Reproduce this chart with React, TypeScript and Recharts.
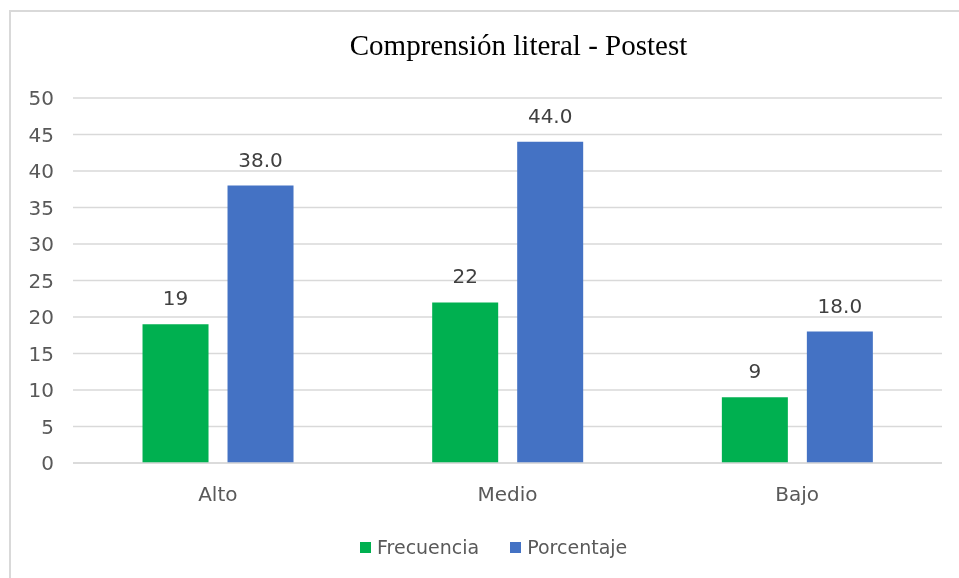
import React from "react";
import {
  BarChart,
  Bar,
  XAxis,
  YAxis,
  CartesianGrid,
  Legend,
  LabelList,
} from "recharts";

const categories = ["Alto", "Medio", "Bajo"];
const frecuencia = [19, 22, 9];
const porcentaje = [38.0, 44.0, 18.0];
const yTicks = [0, 5, 10, 15, 20, 25, 30, 35, 40, 45, 50];

const GREEN = "#00B050";
const BLUE = "#4472C4";
const TEXT = "#595959";
const FONT = "'DejaVu Sans', sans-serif";

const data = categories.map((name, i) => ({
  name,
  frecuencia: frecuencia[i],
  porcentaje: porcentaje[i],
}));

function LegendContent() {
  const items = [
    { label: "Frecuencia", color: GREEN },
    { label: "Porcentaje", color: BLUE },
  ];
  return (
    <div style={{ display: "flex", alignItems: "center", fontFamily: FONT, fontSize: 19, color: TEXT }}>
      {items.map((it, i) => (
        <div key={it.label} style={{ display: "flex", alignItems: "center", marginLeft: i ? 31 : 0 }}>
          <span style={{ width: 11, height: 11, background: it.color, display: "inline-block", marginRight: 6 }} />
          <span>{it.label}</span>
        </div>
      ))}
    </div>
  );
}

export default function App() {
  return (
    <div style={{ position: "fixed", left: 0, top: 0, width: 959, height: 578, background: "#fff" }}>
      <div
        style={{
          position: "absolute",
          left: 9,
          top: 10,
          width: 950,
          height: 568,
          borderLeft: "2px solid #d9d9d9",
          borderTop: "2px solid #d9d9d9",
          boxSizing: "border-box",
        }}
      />
      <div
        style={{
          position: "absolute",
          left: 0,
          width: 1037,
          top: 29,
          textAlign: "center",
          fontFamily: "'Liberation Serif', serif",
          fontSize: 29,
          color: "#000",
        }}
      >
        Comprensión literal - Postest
      </div>
      <div style={{ position: "absolute", left: 0, top: 0 }}>
        <BarChart
          width={959}
          height={578}
          data={data}
          margin={{ top: 98, right: 17, left: 0, bottom: 53 }}
          barCategoryGap="24%"
          barGap={19}
        >
          <CartesianGrid vertical={false} stroke="#d9d9d9" strokeWidth={1.5} />
          <XAxis
            dataKey="name"
            height={40}
            tickLine={false}
            tickSize={0}
            tickMargin={24}
            axisLine={{ stroke: "#d9d9d9", strokeWidth: 1.5 }}
            tick={{ fill: TEXT, fontSize: 20, fontFamily: FONT }}
          />
          <YAxis
            width={73}
            domain={[0, 50]}
            ticks={yTicks}
            interval={0}
            tickLine={false}
            axisLine={false}
            tickSize={0}
            tickMargin={19}
            tick={{ fill: TEXT, fontSize: 20, fontFamily: FONT }}
          />
          <Legend
            content={<LegendContent />}
            wrapperStyle={{ left: 360, top: 536, width: "auto" }}
          />
          <Bar dataKey="frecuencia" name="Frecuencia" fill={GREEN} isAnimationActive={false}>
            <LabelList
              dataKey="frecuencia"
              position="top"
              offset={19}
              style={{ fill: "#404040", fontSize: 20, fontFamily: FONT }}
            />
          </Bar>
          <Bar dataKey="porcentaje" name="Porcentaje" fill={BLUE} isAnimationActive={false}>
            <LabelList
              dataKey="porcentaje"
              position="top"
              offset={19}
              formatter={(v: number) => Number(v).toFixed(1)}
              style={{ fill: "#404040", fontSize: 20, fontFamily: FONT }}
            />
          </Bar>
        </BarChart>
      </div>
    </div>
  );
}
